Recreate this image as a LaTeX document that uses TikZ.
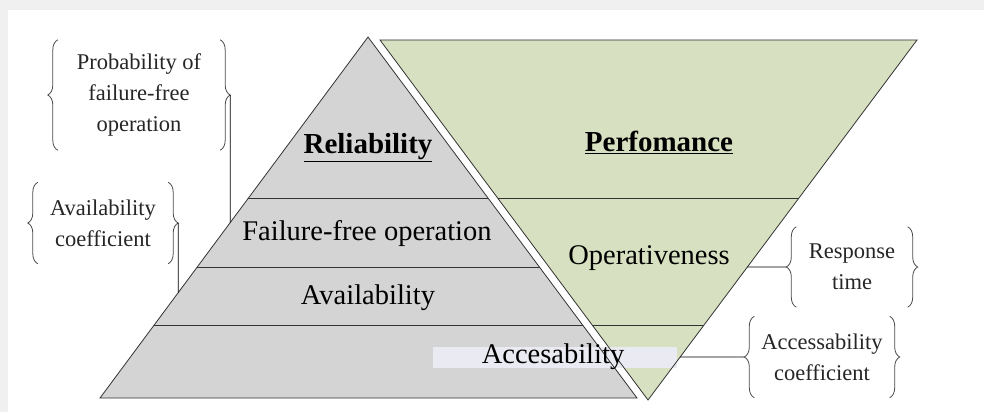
\documentclass[tikz,border=0pt]{standalone}
\usepackage{fontspec}
\setmainfont{Liberation Serif}
\usetikzlibrary{decorations.pathreplacing,positioning}

\begin{document}
\begin{tikzpicture}[
  x=1pt, y=-1pt,
  layer/.style={font=\fontsize{28.5}{33}\selectfont, inner sep=0pt}, % text of a layer
  heading/.style={font=\fontsize{29}{34}\selectfont\bfseries, inner sep=0pt}, % pyramid titles
  note/.style={font=\fontsize{22.5}{31}\selectfont, align=center, inner sep=0pt, text=black!85}, % side notes
  curly/.style={decorate, decoration={brace, amplitude=10pt, aspect=0.5}, draw=black!70, line width=0.8pt},
  outline/.style={draw=black!80, line width=0.8pt},
  link/.style={draw=black, line width=0.8pt}
]

% Define colors
\definecolor{relGray}{RGB}{212,212,212}   % Reliability pyramid
\definecolor{perfGreen}{RGB}{215,224,192} % Perfomance pyramid
\definecolor{frameGray}{RGB}{240,240,240} % screenshot frame
\definecolor{markBox}{RGB}{234,234,242}   % highlight behind Accesability

% Canvas and frame
\useasboundingbox (0,0) rectangle (984,412);
\fill[frameGray] (0,0) rectangle (984,412);
\fill[white] (8,10) rectangle (984,412);

% Corner points
\coordinate (apex) at (368,37);
\coordinate (baseL) at (100,398);
\coordinate (baseR) at (637,398);
\coordinate (topL) at (380,40);
\coordinate (topR) at (917,40);
\coordinate (perfTip) at (648,400);

% Pyramids
\fill[relGray] (apex) -- (baseR) -- (baseL) -- cycle;
\fill[perfGreen] (topL) -- (topR) -- (perfTip) -- cycle;
\fill[markBox] (433,347) rectangle (677,368);

% Layer lines
\begin{scope}
  \clip (apex) -- (baseR) -- (baseL) -- cycle;
  \foreach \y in {198,267,325} \draw[outline] (0,\y) -- (984,\y);
\end{scope}
\begin{scope}
  \clip (topL) -- (topR) -- (perfTip) -- cycle;
  \foreach \y in {198,325} \draw[outline] (0,\y) -- (984,\y);
\end{scope}
\draw[outline] (apex) -- (baseR) -- (baseL) -- cycle;
\draw[outline] (topL) -- (topR) -- (perfTip) -- cycle;

% Layer texts
\node[heading] (rel) at (368,148) {\underline{Reliability}};
\node[heading] (perf) at (659,142) {\underline{Perfomance}};
\node[layer] (ffo) at (367,233) {Failure-free operation};
\node[layer] (avail) at (368,298) {Availability};
\node[layer] (access) at (553,357) {Accesability};
\node[layer] (oper) at (649,258) {Operativeness};

% Side notes
\node[note, minimum width=162pt, minimum height=110pt] (pfo) at (139,95) {Probability of\\failure-free\\operation};
\node[note, minimum width=130pt, minimum height=81pt] (acoef) at (103,223) {Availability\\coefficient};
\node[note, minimum width=111pt, minimum height=80pt] (resp) at (852,267) {Response\\time};
\node[note, minimum width=135pt, minimum height=81pt] (accoef) at (822,357) {Accessability\\coefficient};

\foreach \n in {pfo,acoef,resp,accoef} {
  \draw[curly] (\n.south west) -- (\n.north west);
  \draw[curly] (\n.north east) -- (\n.south east);
}

% Connectors
\coordinate (pfoTip) at ([xshift=10pt]pfo.east);
\coordinate (pfoFoot) at (pfoTip |- baseL);
\draw[link] (pfoTip) -- (intersection of apex--baseL and pfoTip--pfoFoot);

\coordinate (acoefTip) at ([xshift=10pt]acoef.east);
\coordinate (acoefFoot) at (acoefTip |- baseL);
\draw[link] (acoefTip) -- (intersection of apex--baseL and acoefTip--acoefFoot);

\coordinate (respTip) at ([xshift=-10pt]resp.west);
\coordinate (respEnd) at (respTip -| topL);
\draw[link] (intersection of topR--perfTip and respTip--respEnd) -- (respTip);

\coordinate (accoefTip) at ([xshift=-10pt]accoef.west);
\coordinate (accoefEnd) at (accoefTip -| topL);
\draw[link] (intersection of topR--perfTip and accoefTip--accoefEnd) -- (accoefTip);

\end{tikzpicture}
\end{document}
